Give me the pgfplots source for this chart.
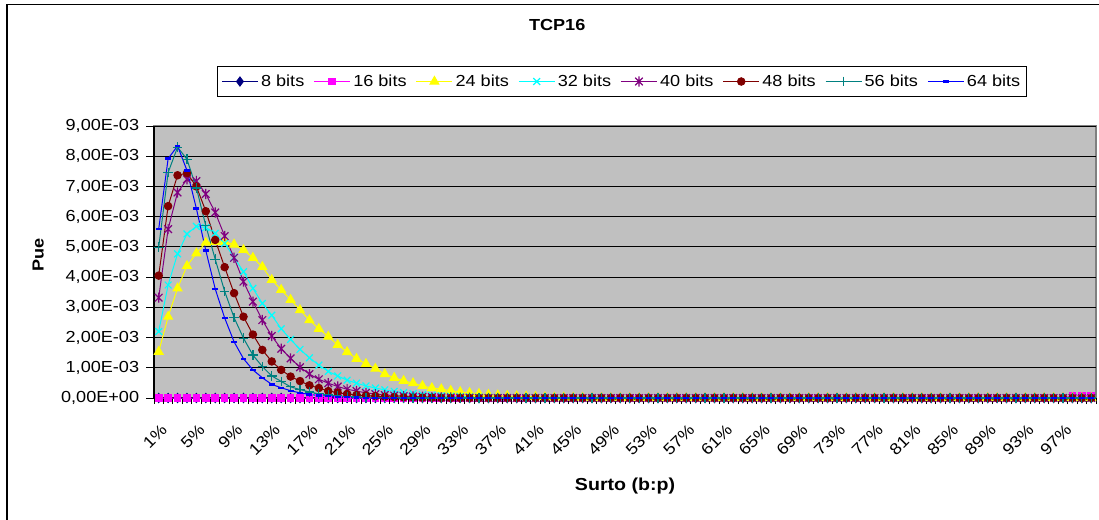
\documentclass[border=0pt]{standalone}
\usepackage{fontspec}
\setmainfont{Liberation Sans}[FakeStretch=1.13]
\usepackage{pgfplots}
\usepackage{pgfplotstable}
\pgfplotsset{compat=1.18}

\definecolor{cNavy}{HTML}{000080}
\definecolor{cMagenta}{HTML}{FF00FF}
\definecolor{cYellow}{HTML}{FFFF00}
\definecolor{cCyan}{HTML}{00FFFF}
\definecolor{cPurple}{HTML}{800080}
\definecolor{cDarkRed}{HTML}{800000}
\definecolor{cTeal}{HTML}{008080}
\definecolor{cBlue}{HTML}{0000FF}
\definecolor{plotBg}{HTML}{C0C0C0}
\definecolor{plotEdge}{HTML}{808080}

% star marker: a cross with a vertical bar through it
\pgfdeclareplotmark{xstar}{%
  \pgfpathmoveto{\pgfqpoint{0pt}{-\pgfplotmarksize}}%
  \pgfpathlineto{\pgfqpoint{0pt}{\pgfplotmarksize}}%
  \pgfpathmoveto{\pgfqpoint{-.75\pgfplotmarksize}{-.75\pgfplotmarksize}}%
  \pgfpathlineto{\pgfqpoint{.75\pgfplotmarksize}{.75\pgfplotmarksize}}%
  \pgfpathmoveto{\pgfqpoint{-.75\pgfplotmarksize}{.75\pgfplotmarksize}}%
  \pgfpathlineto{\pgfqpoint{.75\pgfplotmarksize}{-.75\pgfplotmarksize}}%
  \pgfusepathqstroke}

% Pue (in units of 1E-03) for each burst size, by burst percentage
\pgfplotstableread{
x b8 b16 b24 b32 b40 b48 b56 b64
1 0 0 1.53 2.20 3.32 4.05 4.99 5.59
2 0 0 2.69 3.74 5.59 6.35 7.46 7.92
3 0 0 3.63 4.77 6.80 7.37 8.30 8.34
4 0 0 4.37 5.43 7.24 7.44 7.90 7.53
5 0 0 4.79 5.68 7.18 7.00 6.95 6.27
6 0 0 5.14 5.64 6.75 6.18 5.70 4.88
7 0 0 5.17 5.45 6.14 5.23 4.59 3.61
8 0 0 5.17 5.12 5.36 4.33 3.53 2.65
9 0 0 5.08 4.65 4.64 3.47 2.66 1.86
10 0 0 4.90 4.18 3.85 2.69 1.98 1.30
11 0 0 4.64 3.63 3.19 2.10 1.42 0.93
12 0 0 4.34 3.13 2.58 1.59 1.04 0.67
13 0 0 3.91 2.74 2.05 1.21 0.73 0.45
14 0 0 3.58 2.29 1.63 0.93 0.55 0.34
15 0 0 3.25 1.94 1.31 0.71 0.37 0.24
16 0 0 2.91 1.61 1.02 0.56 0.28 0.17
17 0 0 2.58 1.33 0.79 0.42 0.20 0.12
18 0 0 2.29 1.09 0.62 0.33 0.14 0.08
19 0 0 2.03 0.88 0.49 0.23 0.10 0.06
20 0 0 1.76 0.73 0.38 0.18 0.07 0.04
21 0 0 1.52 0.59 0.29 0.13 0.05 0.03
22 0 0 1.30 0.49 0.23 0.10 0.03 0.02
23 0 0 1.13 0.40 0.17 0.08 0.02 0.01
24 0 0 0.97 0.33 0.13 0.06 0.02 0.01
25 0 0 0.79 0.27 0.10 0.04 0.01 0
26 0 0 0.67 0.22 0.08 0.03 0.01 0
27 0 0 0.57 0.18 0.06 0.02 0 0
28 0 0 0.49 0.14 0.05 0.02 0 0
29 0 0 0.40 0.11 0.04 0.01 0 0
30 0 0 0.33 0.09 0.03 0.01 0 0
31 0 0 0.29 0.07 0.02 0 0 0
32 0 0 0.24 0.06 0.02 0 0 0
33 0 0 0.20 0.05 0.01 0 0 0
34 0 0 0.17 0.04 0.01 0 0 0
35 0 0 0.14 0.03 0 0 0 0
36 0 0 0.11 0.02 0 0 0 0
37 0 0 0.09 0.02 0 0 0 0
38 0 0 0.07 0.01 0 0 0 0
39 0 0 0.06 0.01 0 0 0 0
40 0 0 0.05 0.01 0 0 0 0
41 0 0 0.04 0 0 0 0 0
42 0 0 0.03 0 0 0 0 0
43 0 0 0.02 0 0 0 0 0
44 0 0 0.02 0 0 0 0 0
45 0 0 0.01 0 0 0 0 0
46 0 0 0.01 0 0 0 0 0
47 0 0 0 0 0 0 0 0
48 0 0 0 0 0 0 0 0
49 0 0 0 0 0 0 0 0
50 0 0 0 0 0 0 0 0
51 0 0 0 0 0 0 0 0
52 0 0 0 0 0 0 0 0
53 0 0 0 0 0 0 0 0
54 0 0 0 0 0 0 0 0
55 0 0 0 0 0 0 0 0
56 0 0 0 0 0 0 0 0
57 0 0 0 0 0 0 0 0
58 0 0 0 0 0 0 0 0
59 0 0 0 0 0 0 0 0
60 0 0 0 0 0 0 0 0
61 0 0 0 0 0 0 0 0
62 0 0 0 0 0 0 0 0
63 0 0 0 0 0 0 0 0
64 0 0 0 0 0 0 0 0
65 0 0 0 0 0 0 0 0
66 0 0 0 0 0 0 0 0
67 0 0 0 0 0 0 0 0
68 0 0 0 0 0 0 0 0
69 0 0 0 0 0 0 0 0
70 0 0 0 0 0 0 0 0
71 0 0 0 0 0 0 0 0
72 0 0 0 0 0 0 0 0
73 0 0 0 0 0 0 0 0
74 0 0 0 0 0 0 0 0
75 0 0 0 0 0 0 0 0
76 0 0 0 0 0 0 0 0
77 0 0 0 0 0 0 0 0
78 0 0 0 0 0 0 0 0
79 0 0 0 0 0 0 0 0
80 0 0 0 0 0 0 0 0
81 0 0 0 0 0 0 0 0
82 0 0 0 0 0 0 0 0
83 0 0 0 0 0 0 0 0
84 0 0 0 0 0 0 0 0
85 0 0 0 0 0 0 0 0
86 0 0 0 0 0 0 0 0
87 0 0 0 0 0 0 0 0
88 0 0 0 0 0 0 0 0
89 0 0 0 0 0 0 0 0
90 0 0 0 0 0 0 0 0
91 0 0 0 0 0 0 0 0
92 0 0 0 0 0 0 0 0
93 0 0 0 0 0 0 0 0
94 0 0 0 0 0 0 0 0
95 0 0 0 0 0 0 0 0
96 0 0 0 0 0 0 0 0
97 0 0 0 0 0 0 0 0
98 0 0.07 0 0 0 0 0 0
99 0 0.08 0 0 0 0 0 0
100 0 0.08 0 0 0 0 0 0
}\puedata

\begin{document}
\begin{tikzpicture}[x=0.75pt,y=0.75pt]
\useasboundingbox (0,0) rectangle (1099,519);
\fill[white] (0,0) rectangle (1099,519);
% chart frame
\draw[black, line width=1.2pt] (6.7,-10) -- (6.7,514.3) -- (1120,514.3);

\begin{axis}[
  at={(115.5pt,90.75pt)}, anchor=south west,
  width=706.5pt, height=204pt, scale only axis,
  xmin=0.5, xmax=100.5, ymin=0, ymax=9,
  clip=false,
  axis background/.style={fill=plotBg, draw=plotEdge, line width=1.2pt},
  axis x line*=bottom, axis y line*=left,
  axis line style={black, line width=0.9pt, -},
  tick align=outside,
  tick style={black, line width=0.75pt},
  major tick length=6pt,
  minor tick length=4.5pt,
  xtick={1,5,...,97},
  xticklabels={1\%,5\%,9\%,13\%,17\%,21\%,25\%,29\%,33\%,37\%,41\%,45\%,49\%,53\%,57\%,61\%,65\%,69\%,73\%,77\%,81\%,85\%,89\%,93\%,97\%},
  minor xtick={0.5,1.5,...,100.5},
  major x tick style={draw=none},
  ytick={0,1,...,9},
  yticklabels={{0,00E+00},{1,00E-03},{2,00E-03},{3,00E-03},{4,00E-03},{5,00E-03},{6,00E-03},{7,00E-03},{8,00E-03},{9,00E-03}},
  ymajorgrids,
  major grid style={black, line width=0.75pt},
  tick label style={font=\fontsize{12}{14}\selectfont},
  yticklabel style={anchor=east, inner sep=0pt, xshift=-5pt},
  xticklabel style={anchor=east, inner sep=0pt, rotate=45, xshift=-8pt, yshift=-14pt},
  title={TCP16},
  title style={at={(axis description cs:0.428,1.342)}, anchor=center, font=\bfseries\fontsize{12}{14}\selectfont},
  xlabel={Surto (b:p)},
  xlabel style={at={(axis description cs:0.5,-0.3235)}, anchor=center, font=\bfseries\fontsize{13}{15}\selectfont},
  ylabel={Pue},
  ylabel style={at={(axis description cs:-0.123,0.526)}, anchor=center, font=\bfseries\fontsize{12}{14}\selectfont},
  legend columns=8,
  legend cell align=left,
  legend image code/.code={\draw[mark repeat=2,mark phase=2,#1] plot coordinates {(0pt,0pt) (13.5pt,0pt) (27pt,0pt)};},
  legend style={at={(axis description cs:0.497,1.1636)}, anchor=center, draw=black, line width=0.75pt, fill=white,
    font=\fontsize{12}{14}\selectfont, inner xsep=3pt, inner ysep=4pt,
    /tikz/every even column/.append style={column sep=5pt}},
  every axis plot/.append style={line width=0.75pt},
]
\addplot[color=cNavy, mark=diamond*, mark size=3.4pt, mark options={solid}] table[x=x,y=b8] {\puedata};
\addlegendentry{8 bits}
\addplot[color=cMagenta, mark=square*, mark size=2.5pt, mark options={solid}] table[x=x,y=b16] {\puedata};
\addlegendentry{16 bits}
\addplot[color=cYellow, mark=triangle*, mark size=3.8pt, mark options={solid}] table[x=x,y=b24] {\puedata};
\addlegendentry{24 bits}
\addplot[color=cCyan, mark=x, mark size=3.6pt, mark options={solid, line width=0.9pt}] table[x=x,y=b32] {\puedata};
\addlegendentry{32 bits}
\addplot[color=cPurple, mark=xstar, mark size=3.8pt, mark options={solid, line width=0.9pt}] table[x=x,y=b40] {\puedata};
\addlegendentry{40 bits}
\addplot[color=cDarkRed, mark=*, mark size=2.8pt, mark options={solid}] table[x=x,y=b48] {\puedata};
\addlegendentry{48 bits}
\addplot[color=cTeal, mark=+, mark size=3.6pt, mark options={solid, line width=0.9pt}] table[x=x,y=b56] {\puedata};
\addlegendentry{56 bits}
\addplot[color=cBlue, mark=-, mark size=2.2pt, mark options={solid, line width=1.8pt}] table[x=x,y=b64] {\puedata};
\addlegendentry{64 bits}
\end{axis}
\end{tikzpicture}
\end{document}
